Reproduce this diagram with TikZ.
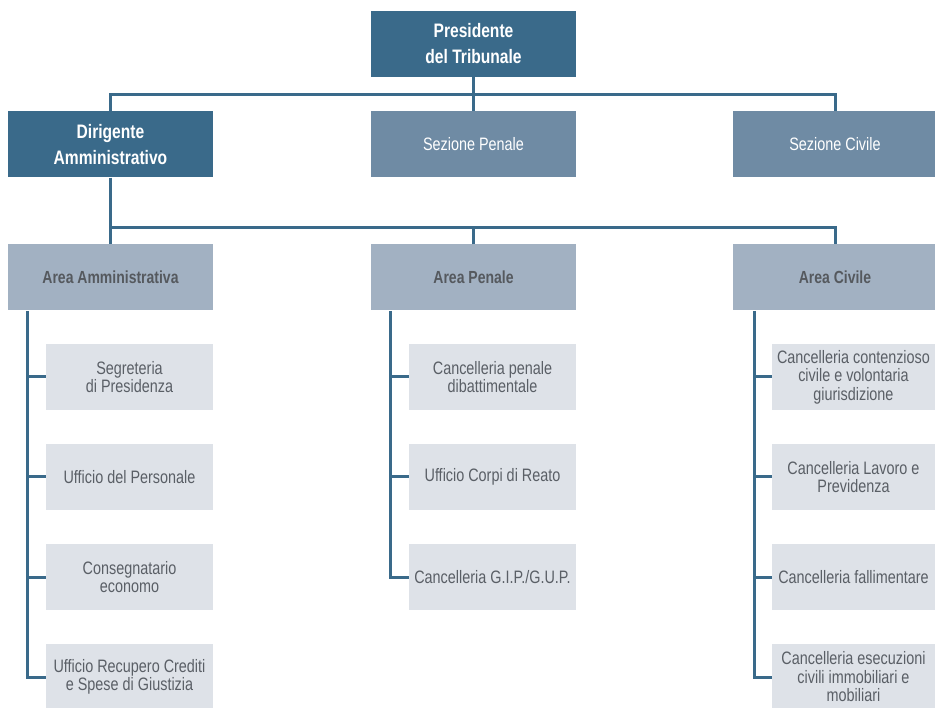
\documentclass[tikz,border=0pt]{standalone}
\usepackage{fontspec}
\setmainfont{Liberation Sans}[FakeStretch=0.8]
\definecolor{dblue}{HTML}{3A6A8A}
\definecolor{mblue}{HTML}{6F8BA4}
\definecolor{lblue}{HTML}{A2B1C2}
\definecolor{pale}{HTML}{DEE2E8}
\definecolor{gtext}{HTML}{5A5F66}
\definecolor{atext}{HTML}{55595E}
\begin{document}
\begin{tikzpicture}[x=1pt,y=-1pt,
  topbox/.style={fill=dblue,text=white,minimum width=205pt,minimum height=66pt,inner sep=0pt,align=center,
    font=\fontsize{19.5}{26}\selectfont\bfseries},
  secbox/.style={fill=mblue,text=white,minimum width=205pt,minimum height=66pt,inner sep=0pt,align=center,
    font=\fontsize{18}{19}\selectfont},
  areabox/.style={fill=lblue,text=atext,minimum width=205pt,minimum height=66pt,inner sep=0pt,align=center,
    font=\fontsize{17.5}{19}\selectfont\bfseries},
  childbox/.style={fill=pale,text=gtext,minimum width=167pt,minimum height=66pt,inner sep=0pt,align=center,
    font=\fontsize{18}{18.5}\selectfont},
  conn/.style={draw=dblue,line width=3pt}]
\useasboundingbox (0,0) rectangle (935,708);
\clip (0,0) rectangle (935,708);
% top level
\node[topbox] (pres) at (473.5,44) {Presidente\\del Tribunale};
\node[topbox] (dir) at (110.5,144.5) {Dirigente\\Amministrativo};
\node[secbox] (sp) at (473.5,144.5) {Sezione Penale};
\node[secbox] (sc) at (835,144.5) {Sezione Civile};
% areas
\node[areabox] (aa) at (110.5,277.5) {Area Amministrativa};
\node[areabox] (ap) at (473.5,277.5) {Area Penale};
\node[areabox] (ac) at (835,277.5) {Area Civile};
% children left
\node[childbox] (a1) at (129.5,377) {Segreteria\\di Presidenza};
\node[childbox] (a2) at (129.5,477) {Ufficio del Personale};
\node[childbox] (a3) at (129.5,577) {Consegnatario\\economo};
\node[childbox] (a4) at (129.5,677) {Ufficio Recupero Crediti\\e Spese di Giustizia};
% children middle
\node[childbox] (p1) at (492.5,377) {Cancelleria penale\\dibattimentale};
\node[childbox] (p2) at (492.5,477) {Ufficio Corpi di Reato};
\node[childbox] (p3) at (492.5,577) {Cancelleria G.I.P./G.U.P.};
% children right
\node[childbox,minimum width=163pt] (c1) at (853.5,377) {Cancelleria contenzioso\\civile e volontaria\\giurisdizione};
\node[childbox,minimum width=163pt] (c2) at (853.5,477) {Cancelleria Lavoro e\\Previdenza};
\node[childbox,minimum width=163pt] (c3) at (853.5,577) {Cancelleria fallimentare};
\node[childbox,minimum width=163pt] (c4) at (853.5,677) {Cancelleria esecuzioni\\civili immobiliari e\\mobiliari};
% buses
\coordinate (b1) at (0,95);
\coordinate (b2) at (0,228);
\draw[conn] (pres.south) -- (sp.north);
\draw[conn] (dir.north) -- (dir.north |- b1) -- (sc.north |- b1) -- (sc.north);
\draw[conn] (dir.south) -- (aa.north);
\draw[conn] (dir.south |- b2) -- (ac.north |- b2) -- (ac.north);
\draw[conn] (ap.north) -- (ap.north |- b2);
% trunks
\coordinate (ta) at (27,311);
\coordinate (tp) at (390,311);
\coordinate (tc) at (754,311);
\draw[conn] (ta) |- (a4.west);
\draw[conn] (ta |- a1.west) -- (a1.west);
\draw[conn] (ta |- a2.west) -- (a2.west);
\draw[conn] (ta |- a3.west) -- (a3.west);
\draw[conn] (tp) |- (p3.west);
\draw[conn] (tp |- p1.west) -- (p1.west);
\draw[conn] (tp |- p2.west) -- (p2.west);
\draw[conn] (tc) |- (c4.west);
\draw[conn] (tc |- c1.west) -- (c1.west);
\draw[conn] (tc |- c2.west) -- (c2.west);
\draw[conn] (tc |- c3.west) -- (c3.west);
\end{tikzpicture}
\end{document}
